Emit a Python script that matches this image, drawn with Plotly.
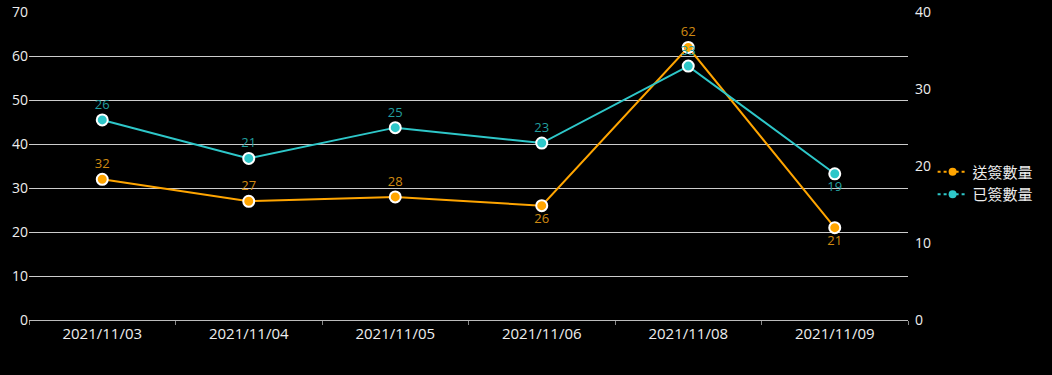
import plotly.graph_objects as go

categories = ["2021/11/03", "2021/11/04", "2021/11/05", "2021/11/06", "2021/11/08", "2021/11/09"]
sent_values = [32, 27, 28, 26, 62, 21]
signed_values = [26, 21, 25, 23, 33, 19]
sent_pos = ["top center", "top center", "top center", "bottom center", "top center", "bottom center"]
signed_pos = ["top center", "top center", "top center", "top center", "top center", "bottom center"]
series_names = ["送簽數量", "已簽數量"]

FONT = "Open Sans, Noto Sans CJK TC, sans-serif"
ORANGE = "#FFA500"
TEAL = "#2EC7C9"

fig = go.Figure()
fig.add_trace(go.Scatter(
    x=categories, y=sent_values, name=series_names[0], mode="lines+markers+text",
    text=[str(v) for v in sent_values], textposition=sent_pos,
    textfont=dict(color="#D08A12", size=13, family=FONT),
    line=dict(color=ORANGE, width=2),
    marker=dict(size=11, color=ORANGE, line=dict(color="white", width=2)),
    yaxis="y", cliponaxis=False, showlegend=False,
))
fig.add_trace(go.Scatter(
    x=categories, y=signed_values, name=series_names[1], mode="lines+markers+text",
    text=[str(v) for v in signed_values], textposition=signed_pos,
    textfont=dict(color="#229E9F", size=13, family=FONT),
    line=dict(color=TEAL, width=2),
    marker=dict(size=11, color=TEAL, line=dict(color="white", width=2)),
    yaxis="y2", cliponaxis=False, showlegend=False,
))
# legend entries (smaller symbols like the reference)
for nm, col in zip(series_names, [ORANGE, TEAL]):
    fig.add_trace(go.Scatter(
        x=[None], y=[None], name=nm, mode="lines+markers",
        line=dict(color=col, width=2, dash="dot"),
        marker=dict(size=8, color=col), showlegend=True,
    ))

fig.update_layout(
    width=1052, height=375,
    paper_bgcolor="black", plot_bgcolor="black",
    margin=dict(l=29, r=144, t=12, b=55, pad=0),
    font=dict(family=FONT, color="#EEEEEE", size=14),
    showlegend=True,
    legend=dict(x=1.028, xanchor="left", y=0.445, yanchor="middle",
                font=dict(size=15, color="#EEEEEE", family="Noto Sans CJK TC"),
                bgcolor="rgba(0,0,0,0)", itemwidth=30, tracegroupgap=0),
    xaxis=dict(type="category", range=[-0.5, 5.5], showgrid=False, showline=True,
               linecolor="#BBBBBB", linewidth=1, ticks="outside", tickson="boundaries",
               ticklen=4, tickcolor="#888888", tickfont=dict(size=15, color="#EEEEEE"),
               zeroline=False, automargin=False),
    yaxis=dict(range=[0, 70.05], tickvals=[0, 10, 20, 30, 40, 50, 60, 70], showgrid=True,
               gridcolor="#CCCCCC", gridwidth=1, zeroline=False, showline=False, ticks="",
               tickfont=dict(size=14, color="#EEEEEE"), automargin=False),
    yaxis2=dict(range=[0, 40.0286], tickvals=[0, 10, 20, 30, 40], overlaying="y", side="right",
                showgrid=False, zeroline=False, showline=False, ticks="",
                ticklabelstandoff=6,
                tickfont=dict(size=14, color="#EEEEEE"), automargin=False),
)

fig.write_html("out.html", config={"displayModeBar": False},
               post_script="document.body.style.margin='0';document.body.style.background='black';")
